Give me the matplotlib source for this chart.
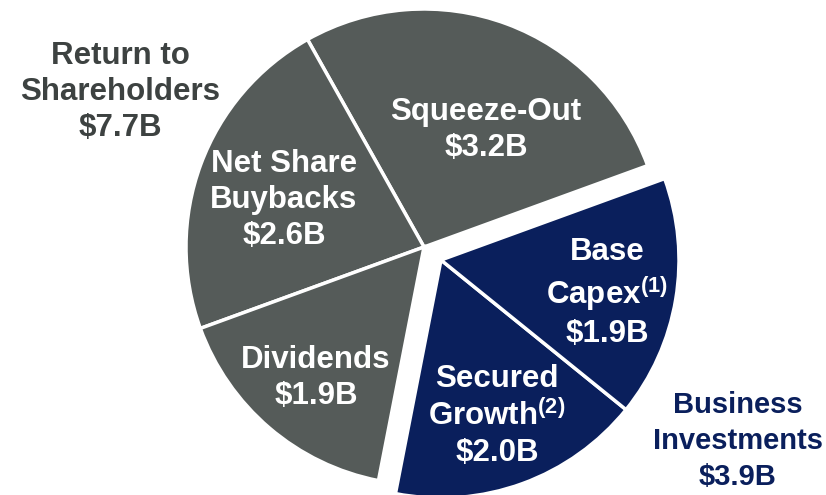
import matplotlib.pyplot as plt

plt.rcParams['font.family'] = ['Liberation Sans', 'DejaVu Sans']
plt.rcParams['mathtext.fontset'] = 'custom'
plt.rcParams['mathtext.rm'] = 'Liberation Sans:bold'
plt.rcParams['mathtext.it'] = 'Liberation Sans:bold'
plt.rcParams['mathtext.bf'] = 'Liberation Sans:bold'

# data ($B)
return_labels = ['Squeeze-Out', 'Net Share\nBuybacks', 'Dividends']
return_values = [3.2, 2.6, 1.9]
invest_labels = ['Secured\nGrowth$^{(2)}$', 'Base\nCapex$^{(1)}$']
invest_values = [2.0, 1.9]
total = sum(return_values) + sum(invest_values)

gray = '#555b59'
navy = '#0a1f5c'

fig = plt.figure(figsize=(8.26, 4.95), dpi=100)
ax = fig.add_axes([0, 0, 1, 1])

start = 20
r = 238
c_gray = (424, 495 - 247)
c_blue = (441, 495 - 260)

ax.pie([v / total for v in return_values], normalize=False, startangle=start,
       radius=r, center=c_gray, colors=[gray] * 3,
       wedgeprops=dict(edgecolor='white', linewidth=2.5))
blue_start = start + 360 * sum(return_values) / total
ax.pie([v / total for v in invest_values], normalize=False, startangle=blue_start,
       radius=r, center=c_blue, colors=[navy] * 2,
       wedgeprops=dict(edgecolor='white', linewidth=2.5))

ax.set_xlim(0, 826)
ax.set_ylim(0, 495)
ax.axis('off')

fs = 22.5
kw = dict(ha='center', va='center', fontweight='bold', linespacing=1.25)

# slice labels (pixel positions, y from top)
lbl_pos = [(486, 130), (284, 200), (316, 378)]
for lab, v, (x, y) in zip(return_labels, return_values, lbl_pos):
    ax.text(x, 495 - y, f'{lab}\n${v:.1f}B', color='white', fontsize=fs, **kw)

inv_pos = [(497, 416), (607, 293)]
for lab, v, (x, y) in zip(invest_labels, invest_values, inv_pos):
    ax.text(x, 495 - y, f'{lab}\n\\${v:.1f}B', color='white', fontsize=fs, **kw)

ax.text(120, 495 - 92, f'Return to\nShareholders\n${sum(return_values):.1f}B',
        color='#3d4241', fontsize=fs, **kw)
ax.text(738, 495 - 441, f'Business\nInvestments\n${sum(invest_values):.1f}B',
        color=navy, fontsize=21, ha='center', va='center', fontweight='bold',
        linespacing=1.35)

fig.savefig('out.png', dpi=100)
